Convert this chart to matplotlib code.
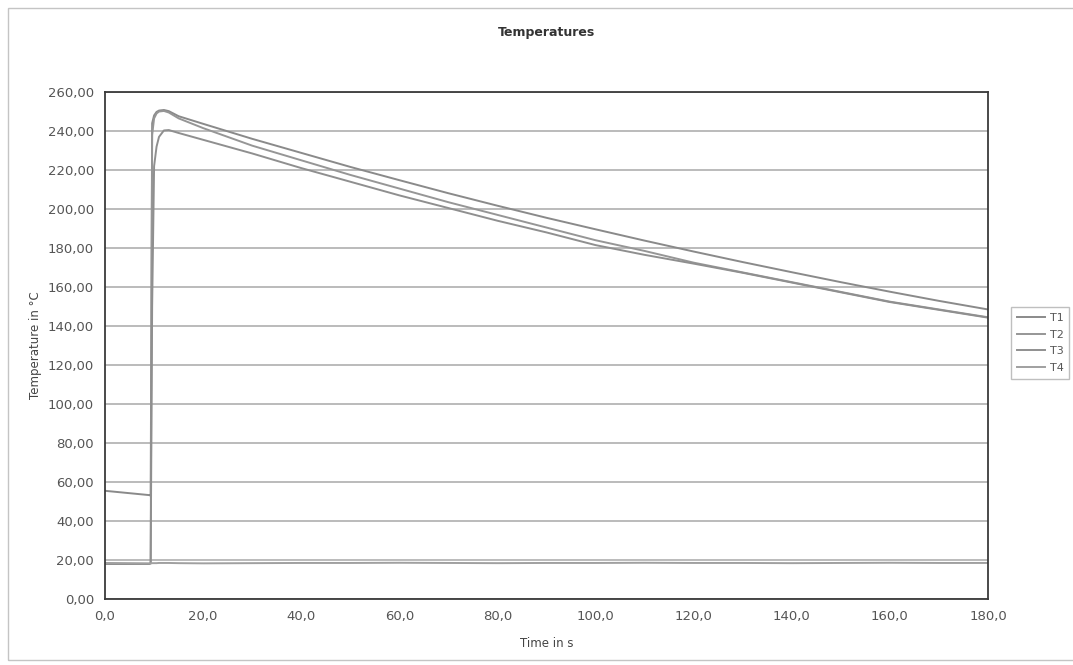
import matplotlib.pyplot as plt
from matplotlib.patches import Rectangle
from matplotlib.ticker import FuncFormatter


OUTPUT_FILE = "out.png"

# Time axis in seconds (shared by all four channels)
TIME_S = [
    0.0, 9.0, 9.3, 9.6, 10.0, 10.5, 11.0, 12.0, 13.0, 15.0,
    20.0, 30.0, 40.0, 50.0, 60.0, 70.0, 80.0, 90.0, 100.0,
    110.0, 120.0, 130.0, 140.0, 150.0, 160.0, 170.0, 180.0,
]

T1_VALUES = [
    55.5, 53.3, 53.0, 244.0, 248.0, 249.8, 250.5, 250.8, 250.2, 247.6,
    243.7, 236.0, 228.8, 221.6, 214.8, 208.1, 201.7, 195.5, 189.6,
    183.8, 178.2, 172.8, 167.6, 162.5, 157.6, 152.9, 148.5,
]

T2_VALUES = [
    18.0, 18.0, 18.2, 238.0, 246.5, 249.0, 250.0, 250.3, 249.5, 246.5,
    241.5, 232.5, 225.0, 217.5, 210.5, 203.5, 197.0, 190.5, 184.0,
    178.5, 172.5, 167.5, 162.5, 157.5, 152.5, 148.5, 144.5,
]

T3_VALUES = [
    18.0, 18.0, 18.5, 150.0, 222.0, 232.0, 237.0, 240.3, 240.5, 239.0,
    235.5, 228.5, 221.0, 214.0, 207.0, 200.5, 194.0, 188.0, 181.5,
    176.5, 172.0, 167.3, 162.3, 157.3, 152.3, 148.3, 144.3,
]

T4_VALUES = [
    18.5, 18.3, 18.3, 18.4, 18.4, 18.4, 18.5, 18.5, 18.5, 18.4,
    18.3, 18.4, 18.5, 18.5, 18.6, 18.5, 18.4, 18.5, 18.5,
    18.6, 18.5, 18.5, 18.4, 18.5, 18.6, 18.5, 18.5,
]

SERIES_NAMES = ["T1", "T2", "T3", "T4"]

Y_TICKS = list(range(0, 261, 20))
X_TICKS = list(range(0, 181, 20))


def comma_format(decimals):
    """Tick formatter with a decimal comma."""

    def _format(value, _position):
        return f"{value:.{decimals}f}".replace(".", ",")

    return FuncFormatter(_format)


def main() -> None:
    fig = plt.figure(figsize=(10.73, 6.65), dpi=100)

    # faint outer chart frame from the scan
    fig.patches.append(
        Rectangle(
            (8 / 1073, 5 / 665),
            1.0,
            652 / 665,
            transform=fig.transFigure,
            fill=False,
            edgecolor="#c4c4c4",
            linewidth=1.0,
        )
    )

    ax = fig.add_axes([0.0979, 0.0992, 0.8229, 0.7624])

    series = [T1_VALUES, T2_VALUES, T3_VALUES, T4_VALUES]
    colors = ["#8a8a8a", "#969696", "#8f8f8f", "#a0a0a0"]

    for name, values, color in zip(SERIES_NAMES, series, colors):
        ax.plot(
            TIME_S,
            values,
            color=color,
            linewidth=1.4,
            label=name,
        )

    ax.set_xlim(0, 180)
    ax.set_ylim(0, 260)
    ax.set_xticks(X_TICKS)
    ax.set_yticks(Y_TICKS)
    ax.xaxis.set_major_formatter(comma_format(1))
    ax.yaxis.set_major_formatter(comma_format(2))

    ax.grid(axis="y", color="#a8a8a8", linewidth=1.1)
    ax.set_axisbelow(True)

    for spine in ax.spines.values():
        spine.set_color("#3a3a3a")
        spine.set_linewidth(1.3)

    ax.tick_params(
        axis="both",
        length=0,
        labelsize=9.5,
        labelcolor="#555555",
        pad=8,
    )

    ax.set_title(
        "Temperatures",
        fontsize=9,
        fontweight="bold",
        color="#333333",
        pad=40,
    )
    ax.set_xlabel("Time in s", fontsize=8.5, color="#444444", labelpad=10)
    ax.set_ylabel(
        "Temperature in °C",
        fontsize=8.5,
        color="#444444",
        labelpad=4,
    )

    legend = fig.legend(
        loc="center left",
        bbox_to_anchor=(1011 / 1073, 322 / 665),
        fontsize=8,
        frameon=True,
        fancybox=False,
        edgecolor="#b0b0b0",
        handlelength=2.6,
        handletextpad=0.4,
        borderpad=0.5,
        borderaxespad=0.0,
        labelspacing=0.6,
    )
    for text in legend.get_texts():
        text.set_color("#555555")

    fig.savefig(OUTPUT_FILE, dpi=100)
    plt.close(fig)


if __name__ == "__main__":
    main()
